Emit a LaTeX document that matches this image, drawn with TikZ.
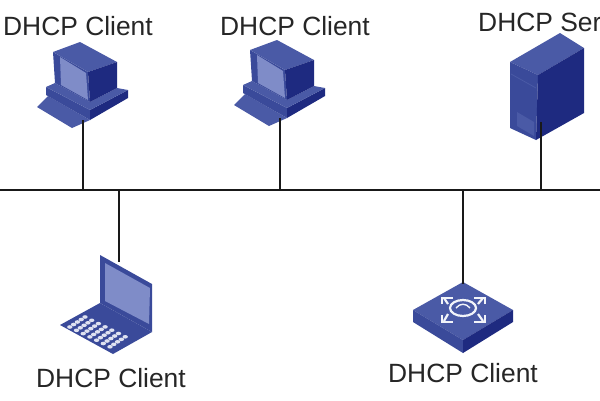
\documentclass[tikz,border=0pt]{standalone}
\usepackage{fontspec}
\setmainfont{Liberation Sans}
\definecolor{navy}{HTML}{1E2A80}
\definecolor{midblue}{HTML}{3A4A9A}
\definecolor{topblue}{HTML}{4A5AA6}
\definecolor{paleblue}{HTML}{7F8CC8}
\tikzset{
  x=1pt,y=-1pt,
  label text/.style={font=\fontsize{26.4}{26.4}\selectfont,text=black!85,inner sep=0pt,anchor=base},
  wire/.style={draw=black!90,line width=1.4pt},
  iconspot/.style={inner sep=0pt,minimum size=0pt},
  desktop/.pic={
    % keyboard, running in under the base
    \fill[topblue] (-46,-21) -- (-35,-32) -- (7,-8) -- (-11,0) -- cycle;
    % base unit
    \fill[midblue] (-37,-41) -- (7,-18) -- (7,-8) -- (-37,-33) -- cycle;
    \fill[navy] (7,-18) -- (45,-38) -- (45,-30) -- (7,-8) -- cycle;
    \fill[topblue] (-37,-41) -- (-28,-45) -- (7,-26) -- (34,-40) -- (45,-38) -- (7,-18) -- cycle;
    % monitor
    \fill[midblue] (-30,-76) -- (5,-56) -- (7,-26) -- (-28,-45) -- cycle;
    \fill[topblue] (-30,-76) -- (-3,-86) -- (34,-66) -- (5,-56) -- cycle;
    \fill[navy] (5,-56) -- (34,-66) -- (34,-40) -- (7,-26) -- cycle;
    \fill[paleblue] (-23,-71) -- (3,-55) -- (5,-28) -- (-22,-43) -- cycle;
  },
}
\begin{document}
\begin{tikzpicture}
\useasboundingbox (0,0) rectangle (600,400);
\fill[white] (0,0) rectangle (600,400);

% attachment points on the bus
\coordinate (busL) at (0,190);
\coordinate (busR) at (600,190);
\coordinate (tapA) at (83,190);
\coordinate (tapB) at (280,190);
\coordinate (tapC) at (119,190);
\coordinate (tapD) at (463,190);
\coordinate (tapE) at (541,190);

% device anchor points
\node[iconspot] (pcA) at (83,120) {};
\node[iconspot] (pcB) at (280,118) {};
\node[iconspot] (laptop) at (119,262) {};
\node[iconspot] (switch) at (463,284) {};
\node[iconspot] (server) at (541,122) {};

% desktops
\pic at (83,128) {desktop};
\pic at (280,126) {desktop};

% tower server
\fill[topblue] (510,62) -- (560,33) -- (584,48) -- (538,75) -- cycle;
\fill[midblue] (510,62) -- (538,75) -- (536,140) -- (510,128) -- cycle;
\fill[navy] (538,75) -- (584,48) -- (584,113) -- (536,140) -- cycle;
\fill[topblue] (517,112) -- (534,122) -- (534,136) -- (517,126) -- cycle;
\draw[topblue,line width=.8pt] (511,74) -- (536,88);

% laptop
\fill[midblue] (100,255) -- (152,284) -- (152,332) -- (100,303) -- cycle;
\fill[paleblue] (105,263) -- (150,288) -- (149,324) -- (105,301) -- cycle;
\fill[midblue] (100,303) -- (152,332) -- (113,354) -- (60,325) -- cycle;
\foreach \r in {0,...,4}
  \foreach \c in {0,...,6}
    \fill[white!75!paleblue] ({85+\c*6.7-\r*3.8},{317+\c*3.3+\r*2.5}) ellipse (2.7 and 1.8);

% switch
\fill[topblue] (463,282) -- (513,310) -- (463,340) -- (413,310) -- cycle;
\fill[midblue] (413,310) -- (463,340) -- (463,353) -- (413,322) -- cycle;
\fill[navy] (463,340) -- (513,310) -- (513,322) -- (463,353) -- cycle;
\begin{scope}[white!90!paleblue,line width=2.2pt]
  \draw (463,308) ellipse (13 and 8);
  \draw (448,304) -- (444,298) (478,304) -- (483,298) (448,314) -- (444,321) (478,314) -- (483,321);
  \draw (442,304) -- (442,298) -- (453,298) (485,304) -- (485,298) -- (474,298);
  \draw (442,315) -- (442,322) -- (453,322) (485,315) -- (485,322) -- (474,322);
  \draw[line width=1.4pt] (456,308) .. controls (460,303) and (466,303) .. (470,308);
\end{scope}

% labels
\node[label text] at (78,35) {DHCP Client};
\node[label text] at (295,35) {DHCP Client};
\node[label text,anchor=base west] at (478,31) {DHCP Ser};
\node[label text] at (111,387) {DHCP Client};
\node[label text] at (463,382) {DHCP Client};

% bus and drops
\draw[wire] (busL) -- (busR);
\draw[wire] (tapA) -- (pcA);
\draw[wire] (tapB) -- (pcB);
\draw[wire] (tapC) -- (laptop);
\draw[wire] (tapD) -- (switch);
\draw[wire] (tapE) -- (server);
\end{tikzpicture}
\end{document}
